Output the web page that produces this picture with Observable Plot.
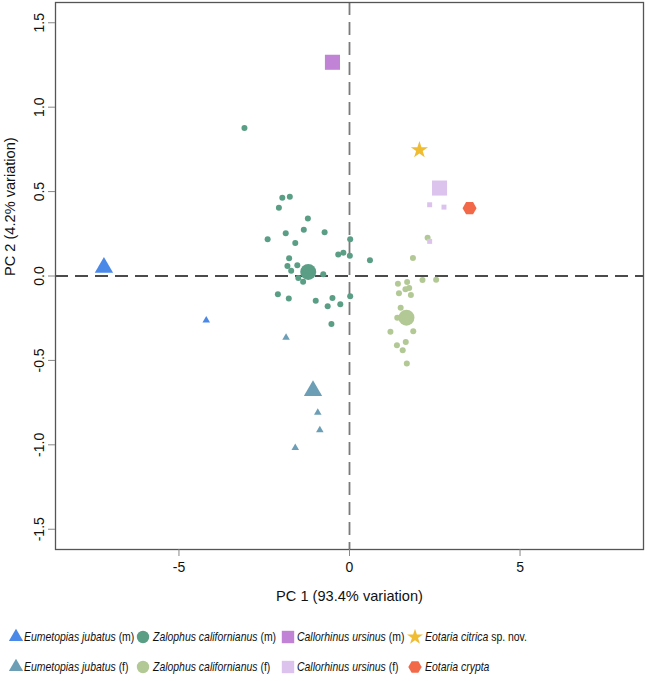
<!DOCTYPE html>
<html><head><meta charset="utf-8">
<script src="https://cdn.jsdelivr.net/npm/d3@7"></script>
<script src="https://cdn.jsdelivr.net/npm/@observablehq/plot@0.6"></script>
<style>
body{margin:0;background:#fff;font-family:"Liberation Sans",Arial,sans-serif;}
#chart,#legend{width:669px;}
#legend svg{display:block;}
</style></head><body><div id="chart"></div><div id="legend"></div>
<script>
// ---- data (PC1, PC2) ----
const xTicks = [-5, 0, 5];
const yTicks = [-1.5, -1.0, -0.5, 0.0, 0.5, 1.0, 1.5];
const xLabel = "PC 1 (93.4% variation)";
const yLabel = "PC 2 (4.2% variation)";

const zalophusMale = [
  [-1.97,0.463],[-1.75,0.469],[-2.07,0.404],[-1.22,0.341],[-1.87,0.253],[-1.34,0.274],
  [-0.73,0.259],[-2.40,0.217],[-1.59,0.195],[0.02,0.217],[-0.33,0.128],[-0.18,0.138],
  [0.01,0.120],[0.60,0.093],[-1.77,0.105],[-1.82,0.059],[-1.71,0.031],[-1.53,0.063],
  [-0.77,0.010],[-1.50,-0.012],[-1.36,-0.034],[-2.10,-0.108],[-1.78,-0.134],[-0.99,-0.146],
  [-0.50,-0.130],[-0.64,-0.179],[-0.27,-0.167],[0.02,-0.120],[-0.53,-0.284],[-3.08,0.876]
];
const zalophusFemale = [
  [2.29,0.227],[1.86,0.107],[1.42,-0.046],[1.69,-0.036],[2.14,-0.024],[2.54,-0.022],
  [1.64,-0.079],[1.75,-0.071],[1.45,-0.102],[1.80,-0.112],[1.50,-0.188],[1.40,-0.247],
  [1.20,-0.330],[1.87,-0.327],[1.39,-0.410],[1.65,-0.391],[1.56,-0.440],[1.68,-0.519]
];
const eumetopiasMale = [[-4.20,-0.262]];
const eumetopiasFemale = [[-1.86,-0.365],[-0.93,-0.809],[-0.87,-0.913],[-1.59,-1.018]];
const callorhinusFemale = [[2.35,0.422],[2.77,0.408],[2.35,0.205]];

const eumetopiasMaleMean = [[-7.20,0.050]];
const eumetopiasFemaleMean = [[-1.07,-0.680]];
const zalophusMaleMean = [[-1.21,0.024]];
const zalophusFemaleMean = [[1.67,-0.247]];
const callorhinusMaleMean = [[-0.50,1.266]];
const callorhinusFemaleMean = [[2.64,0.521]];
const eotariaCitrica = [[2.05,0.746]];
const eotariaCrypta = [[3.52,0.402]];

// ---- styling ----
const cEumM = "#4A89E8", cEumF = "#6C9FB6", cZalM = "#5A9E86", cZalF = "#B3C995",
      cCalM = "#C183D6", cCalF = "#DCC3EE", cCit = "#F0BC32", cCry = "#F2694A";

const hexagon = {
  draw(context, size) {
    const r = Math.sqrt(size / Math.PI);
    for (let i = 0; i < 6; ++i) {
      const a = i * Math.PI / 3;
      const px = r * Math.cos(a), py = r * Math.sin(a);
      if (i === 0) context.moveTo(px, py); else context.lineTo(px, py);
    }
    context.closePath();
  }
};

const pos = {x: d => d[0], y: d => d[1]};
const dot = (data, symbol, fill, r) => Plot.dot(data, {...pos, symbol, fill, r, stroke: "none"});

const plot = Plot.plot({
  width: 669, height: 610,
  marginLeft: 55, marginRight: 26, marginTop: 2, marginBottom: 61,
  x: {domain: [-8.62, 8.62]},
  y: {domain: [-1.62, 1.62]},
  style: {fontFamily: "'Liberation Sans', Arial, sans-serif", fontSize: "14px", color: "#111", background: "#fff"},
  marks: [
    Plot.ruleY([0], {stroke: "#111", strokeWidth: 1.3, strokeDasharray: "13,7"}),
    Plot.ruleX([0], {stroke: "#7a7a7a", strokeWidth: 1.8, strokeDasharray: "13,7"}),
    Plot.frame({stroke: "#555", strokeWidth: 1.3}),
    Plot.axisX({ticks: xTicks, tickSize: 7, tickPadding: 6, stroke: "#888", fill: "#111",
      tickFormat: d => String(d), label: null, fontSize: 14}),
    Plot.axisY({ticks: yTicks, tickSize: 7, tickPadding: 5, tickRotate: -90, stroke: "#888", fill: "#111",
      textAnchor: "middle", lineAnchor: "bottom", tickFormat: d => d.toFixed(1), label: null, fontSize: 14}),
    Plot.text([xLabel], {text: d => d, frameAnchor: "bottom", dy: 51, fontSize: 14.6, fill: "#111"}),
    Plot.text([yLabel], {text: d => d, frameAnchor: "left", dx: -45, rotate: -90, fontSize: 14.6, fill: "#111"}),
    dot(zalophusMale, "circle", cZalM, 3),
    dot(zalophusFemale, "circle", cZalF, 3),
    dot(eumetopiasMale, "triangle", cEumM, 2.8),
    dot(eumetopiasFemale, "triangle", cEumF, 2.8),
    dot(callorhinusFemale, "square", cCalF, 2.8),
    dot(eumetopiasMaleMean, "triangle", cEumM, 6.8),
    dot(eumetopiasFemaleMean, "triangle", cEumF, 6.8),
    dot(zalophusMaleMean, "circle", cZalM, 8),
    dot(zalophusFemaleMean, "circle", cZalF, 8),
    dot(callorhinusMaleMean, "square", cCalM, 8.5),
    dot(callorhinusFemaleMean, "square", cCalF, 8.5),
    dot(eotariaCitrica, "star", cCit, 5.4),
    dot(eotariaCrypta, hexagon, cCry, 7)
  ]
});
document.getElementById("chart").appendChild(plot);

// ---- legend ----
const legendItems = [
  {row: 0, col: 0, sym: d3.symbolTriangle, r: 5.3, color: cEumM, name: "Eumetopias jubatus", suffix: " (m)"},
  {row: 0, col: 1, sym: d3.symbolCircle, r: 6.2, color: cZalM, name: "Zalophus californianus", suffix: " (m)"},
  {row: 0, col: 2, sym: d3.symbolSquare, r: 7, color: cCalM, name: "Callorhinus ursinus", suffix: " (m)"},
  {row: 0, col: 3, sym: d3.symbolStar, r: 5, color: cCit, name: "Eotaria citrica", suffix: " sp. nov."},
  {row: 1, col: 0, sym: d3.symbolTriangle, r: 5.3, color: cEumF, name: "Eumetopias jubatus", suffix: " (f)"},
  {row: 1, col: 1, sym: d3.symbolCircle, r: 6.2, color: cZalF, name: "Zalophus californianus", suffix: " (f)"},
  {row: 1, col: 2, sym: d3.symbolSquare, r: 7, color: cCalF, name: "Callorhinus ursinus", suffix: " (f)"},
  {row: 1, col: 3, sym: hexagon, r: 6.7, color: cCry, name: "Eotaria crypta", suffix: ""}
];
const iconX = [16, 143, 288, 415], textX = [24, 153, 297, 425], rowY = [27, 57];

const lsvg = d3.select("#legend").append("svg").attr("width", 669).attr("height", 71)
  .style("font-family", "'Liberation Sans', Arial, sans-serif").style("font-size", "12.6px");
for (const it of legendItems) {
  lsvg.append("path")
    .attr("transform", `translate(${iconX[it.col]},${rowY[it.row]})`)
    .attr("d", d3.symbol(it.sym, Math.PI * it.r * it.r)())
    .attr("fill", it.color);
  const t = lsvg.append("text")
    .attr("transform", `translate(${textX[it.col]},${rowY[it.row]}) scale(0.83,1)`)
    .attr("dy", "0.35em").attr("fill", "#111");
  t.append("tspan").attr("font-style", "italic").text(it.name);
  if (it.suffix) t.append("tspan").text(it.suffix);
}
</script>
</body></html>
